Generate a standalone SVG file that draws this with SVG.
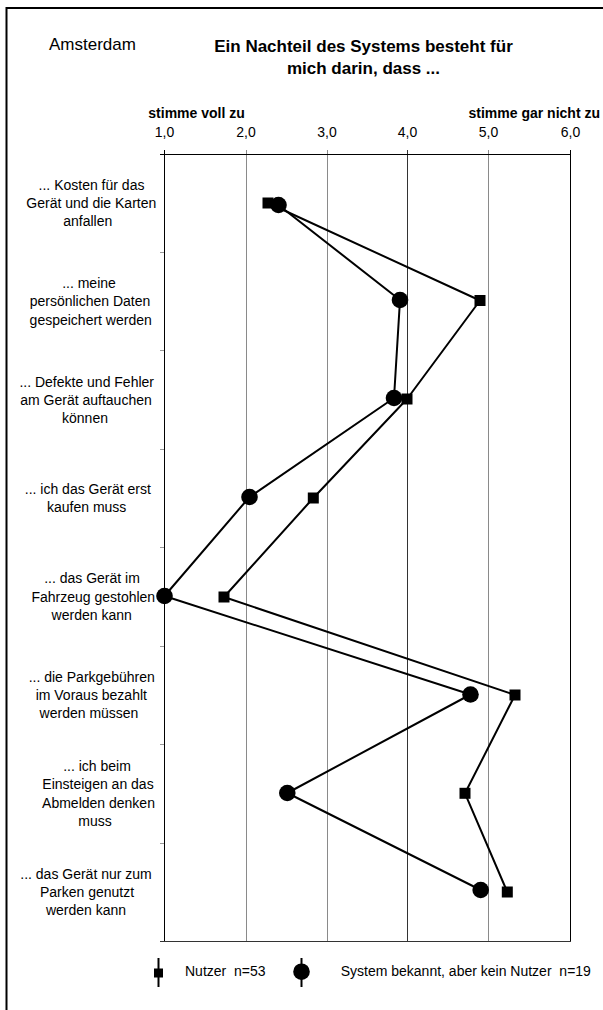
<svg xmlns="http://www.w3.org/2000/svg" width="603" height="1010" viewBox="0 0 603 1010">
  <style>
    .sans { font-family: "Liberation Sans", Arial, sans-serif; fill: #000; }
    .head { font-size: 17px; }
    .title { font-size: 17px; font-weight: bold; }
    .scale { font-size: 14px; font-weight: bold; }
    .tick { font-size: 14px; }
    .cat { font-size: 14px; }
    .legend { font-size: 14px; }
    .grid { stroke-width: 1; fill: none; }
    .series { fill: none; stroke: #000; stroke-width: 2; stroke-linejoin: round; }
    .dot { fill: #000; }
  </style>
  <defs>
    <circle id="mk-circle" r="8.3" class="dot"/>
    <rect id="mk-square" x="-5.5" y="-5.5" width="11" height="11" class="dot"/>
  </defs>

  <rect width="603" height="1010" fill="#fff"/>

  <!-- outer frame: only top and left edges fall inside the page -->
  <g id="frame" stroke="#000" stroke-width="2" fill="none">
    <path d="M6.5 1010 V8 H603"/>
  </g>

  <!-- headings -->
  <g id="header" class="sans">
    <text class="head" x="49" y="50">Amsterdam</text>
    <text class="title" x="363.5" y="52" text-anchor="middle">Ein Nachteil des Systems besteht für</text>
    <text class="title" x="363.5" y="73.5" text-anchor="middle">mich darin, dass ...</text>
  </g>

  <!-- scale annotations and tick labels -->
  <g id="scale" class="sans">
    <text class="scale" x="148.3" y="118.3">stimme voll zu</text>
    <text class="scale" x="600" y="118.3" text-anchor="end">stimme gar nicht zu</text>
    <g class="tick" text-anchor="middle">
      <text x="164.5" y="137">1,0</text>
      <text x="246" y="137">2,0</text>
      <text x="327" y="137">3,0</text>
      <text x="407.5" y="137">4,0</text>
      <text x="488.5" y="137">5,0</text>
      <text x="570.5" y="137">6,0</text>
    </g>
  </g>

  <!-- plot area: gridlines, axes, ticks -->
  <g id="grid">
    <g class="grid" stroke="#8a8a8a">
      <line x1="246.5" y1="150" x2="246.5" y2="941"/>
      <line x1="327.5" y1="150" x2="327.5" y2="941"/>
      <line x1="488.5" y1="150" x2="488.5" y2="941"/>
    </g>
    <line class="grid" stroke="#333" x1="407.5" y1="150" x2="407.5" y2="941"/>
    <line class="grid" stroke="#000" x1="570.5" y1="150" x2="570.5" y2="941"/>
    <line class="grid" stroke="#000" x1="164.5" y1="150" x2="164.5" y2="941"/>
    <line class="grid" stroke="#000" x1="160" y1="154.5" x2="571" y2="154.5"/>
    <line class="grid" stroke="#333" x1="160" y1="941.5" x2="571" y2="941.5"/>
    <g class="grid" stroke="#999">
      <line x1="160" y1="252.5" x2="164" y2="252.5"/>
      <line x1="160" y1="350.5" x2="164" y2="350.5"/>
      <line x1="160" y1="449.5" x2="164" y2="449.5"/>
      <line x1="160" y1="547.5" x2="164" y2="547.5"/>
      <line x1="160" y1="646.5" x2="164" y2="646.5"/>
      <line x1="160" y1="744.5" x2="164" y2="744.5"/>
      <line x1="160" y1="843.5" x2="164" y2="843.5"/>
    </g>
  </g>

  <!-- item labels -->
  <g id="items" class="sans cat" text-anchor="middle">
    <text><tspan x="91.5" y="189.7">... Kosten für das</tspan><tspan x="91.3" y="208">Gerät und die Karten</tspan><tspan x="87.7" y="226.3">anfallen</tspan></text>
    <text><tspan x="89" y="288.1">... meine</tspan><tspan x="90" y="306.4">persönlichen Daten</tspan><tspan x="90.7" y="324.7">gespeichert werden</tspan></text>
    <text><tspan x="86.7" y="386.5">... Defekte und Fehler</tspan><tspan x="86" y="404.8">am Gerät auftauchen</tspan><tspan x="85" y="423.1">können</tspan></text>
    <text><tspan x="87.8" y="494">... ich das Gerät erst</tspan><tspan x="86.7" y="512.3">kaufen muss</tspan></text>
    <text><tspan x="92" y="583.3">... das Gerät im</tspan><tspan x="93.3" y="601.6">Fahrzeug gestohlen</tspan><tspan x="91.7" y="619.9">werden kann</tspan></text>
    <text><tspan x="91.7" y="681.7">... die Parkgebühren</tspan><tspan x="91.3" y="700">im Voraus bezahlt</tspan><tspan x="89" y="718.3">werden müssen</tspan></text>
    <text><tspan x="97" y="771">... ich beim</tspan><tspan x="98" y="789.3">Einsteigen an das</tspan><tspan x="98.5" y="807.6">Abmelden denken</tspan><tspan x="95" y="825.9">muss</tspan></text>
    <text><tspan x="86" y="878.5">... das Gerät nur zum</tspan><tspan x="87" y="896.8">Parken genutzt</tspan><tspan x="86" y="915.1">werden kann</tspan></text>
  </g>

  <!-- profile lines -->
  <g id="connectors">
    <polyline id="line-nutzer" class="series" points="268,203 480,300.5 407,399 313.3,498 224,597 515,695 465,793.3 507.3,892"/>
    <polyline id="line-bekannt" class="series" points="278.5,205 400,300 394,398 249.5,497 164.5,596 470.5,694.5 287.3,793 480.7,890"/>
  </g>

  <!-- markers: Nutzer (squares) -->
  <g id="nutzer">
    <use href="#mk-square" x="268" y="203"/>
    <use href="#mk-square" x="480" y="300.5"/>
    <use href="#mk-square" x="407" y="399"/>
    <use href="#mk-square" x="313.3" y="498"/>
    <use href="#mk-square" x="224" y="597"/>
    <use href="#mk-square" x="515" y="695"/>
    <use href="#mk-square" x="465" y="793.3"/>
    <use href="#mk-square" x="507.3" y="892"/>
  </g>

  <!-- markers: System bekannt, aber kein Nutzer (circles) -->
  <g id="bekannt">
    <use href="#mk-circle" x="278.5" y="205"/>
    <use href="#mk-circle" x="400" y="300"/>
    <use href="#mk-circle" x="394" y="398"/>
    <use href="#mk-circle" x="249.5" y="497"/>
    <use href="#mk-circle" x="164.5" y="596"/>
    <use href="#mk-circle" x="470.5" y="694.5"/>
    <use href="#mk-circle" x="287.3" y="793"/>
    <use href="#mk-circle" x="480.7" y="890"/>
  </g>

  <!-- legend -->
  <g id="legend">
    <line x1="158.5" y1="958" x2="158.5" y2="987" stroke="#000" stroke-width="2"/>
    <rect x="154" y="968.5" width="9" height="9" class="dot"/>
    <text class="sans legend" x="185" y="976" xml:space="preserve">Nutzer  n=53</text>
    <line x1="301.5" y1="958" x2="301.5" y2="987" stroke="#000" stroke-width="2"/>
    <circle cx="301.5" cy="971.7" r="8.3" class="dot"/>
    <text class="sans legend" x="340.7" y="976" xml:space="preserve">System bekannt, aber kein Nutzer  n=19</text>
  </g>
</svg>
